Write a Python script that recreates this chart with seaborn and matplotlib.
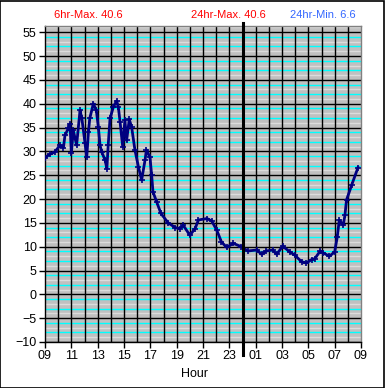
import numpy as np
import pandas as pd
import matplotlib
matplotlib.use("Agg")
import matplotlib.pyplot as plt
import seaborn as sns

# hours since 09:00, temperature
hours = [0, 0.38, 0.76, 1.14, 1.4, 1.52, 1.77, 1.9, 2.0, 2.15,
         2.4, 2.66, 2.8, 3.04, 3.17, 3.3, 3.4, 3.67, 3.9, 4.05,
         4.18, 4.3, 4.56, 4.7, 4.8, 4.94, 5.19, 5.44, 5.57, 5.7,
         5.9, 6.07, 6.2, 6.4, 6.58, 6.83, 7.09, 7.34, 7.6, 7.7,
         7.97, 8.1, 8.2, 8.48, 8.8, 9.35, 9.9, 10.25, 10.5, 11.0,
         11.4, 11.65, 12.3, 12.66, 13.04, 13.4, 13.8, 14.3, 14.9, 15.4,
         16.1, 16.45, 16.8, 17.3, 17.6, 18.05, 18.6, 18.98, 19.5, 19.86,
         20.25, 20.5, 20.9, 21.13, 21.6, 22.0, 22.2, 22.35, 22.65, 22.78,
         22.9, 23.3, 23.77]
temps = [28.7, 29.4, 29.9, 31.3, 30.8, 33.4, 34.8, 35.8, 29.6, 34.4,
         31.3, 38.6, 36.9, 31.7, 28.8, 34.1, 36.9, 40.0, 38.6, 35.1,
         31.3, 29.9, 28.2, 26.4, 31.3, 36.9, 39.3, 40.6, 39.3, 36.2,
         31.0, 36.5, 32.3, 36.7, 35.1, 30.3, 26.8, 24.0, 28.2, 30.3,
         28.8, 25.0, 21.5, 19.4, 17.0, 15.0, 14.0, 13.8, 14.5, 12.4,
         13.8, 15.6, 15.9, 15.4, 13.5, 11.0, 9.85, 10.7, 10.0, 9.1,
         9.3, 8.4, 9.1, 9.3, 8.4, 10.1, 8.9, 8.2, 6.8, 6.6,
         7.3, 7.5, 9.1, 8.7, 8.0, 8.9, 12.1, 15.6, 14.5, 16.6,
         19.8, 23.0, 26.6]

hour_ticks = list(range(0, 25, 2))
hour_labels = ["09", "11", "13", "15", "17", "19", "21", "23",
               "01", "03", "05", "07", "09"]
y_ticks = list(range(-10, 56, 5))

df = pd.DataFrame({"hour": hours, "temp": temps})

plt.rcParams["font.family"] = ["Liberation Sans", "DejaVu Sans"]

fig = plt.figure(figsize=(3.85, 3.88), dpi=100)
ax = fig.add_axes([45 / 385, 1 - 342 / 388, 316 / 385, 316 / 388])
ax.set_facecolor("#c0c0c0")

# minor horizontal lines (cyan / light) and major grid
for v in np.arange(-10, 57, 1):
    m = v % 5
    if m == 0:
        continue
    col = "#00ffff" if m in (2, 4) else "#dcdcdc"
    ax.axhline(v, color=col, lw=1, zorder=0.5)
for v in y_ticks:
    ax.axhline(v, color="black", lw=1, zorder=0.6)
for h in range(1, 24):
    ax.axvline(h, color="black", lw=1, zorder=0.6)

sns.lineplot(data=df, x="hour", y="temp", ax=ax, color="#000080",
             lw=2, marker="+", markersize=5, markeredgewidth=1.2,
             markeredgecolor="#000080", zorder=3)

# midnight marker
ax.axvline(15, ymin=-0.04, ymax=1.008, color="black", lw=2.2,
           clip_on=False, zorder=4)

ax.set_xlim(0, 24)
ax.set_ylim(-10, 56.3)
ax.set_xticks(hour_ticks)
ax.set_xticklabels(hour_labels)
ax.set_yticks(y_ticks)
ax.tick_params(axis="both", length=4, width=1, labelsize=9, color="black", pad=2)
ax.set_xlabel("")
ax.set_ylabel("")

for s in ["left", "bottom"]:
    ax.spines[s].set_color("black")
    ax.spines[s].set_linewidth(1)
for s in ["top", "right"]:
    ax.spines[s].set_color("#808080")
    ax.spines[s].set_linewidth(1)

fig.text(195 / 385, 1 - 374 / 388, "Hour", ha="center", va="center", fontsize=9)
fig.text(88 / 385, 1 - 15 / 388, "6hr-Max. 40.6", ha="center", va="center",
         fontsize=8, color="red")
fig.text(228 / 385, 1 - 15 / 388, "24hr-Max. 40.6", ha="center", va="center",
         fontsize=8, color="red")
fig.text(323 / 385, 1 - 15 / 388, "24hr-Min. 6.6", ha="center", va="center",
         fontsize=8, color="#3366ff")

# outer frame
fig.patches.append(plt.Rectangle((0.001, 0.001), 0.997, 0.997, transform=fig.transFigure,
                                 fill=False, edgecolor="black", lw=1.2))

fig.savefig("out.png", dpi=100)
